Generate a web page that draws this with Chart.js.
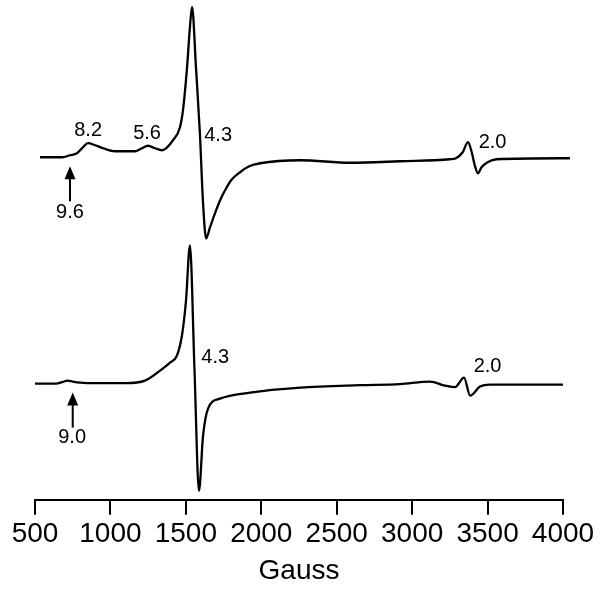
<!DOCTYPE html>
<html>
<head>
<meta charset="utf-8">
<script src="https://cdn.jsdelivr.net/npm/chart.js@4/dist/chart.umd.min.js"></script>
<style>
  html, body { margin: 0; padding: 0; background: #fff; }
  #wrap { width: 600px; height: 592px; }
</style>
</head>
<body>
<div id="wrap"><canvas id="epr"></canvas></div>
<script>
// Upper spectrum: field (G) and relative intensity
var gaussTop = [533, 680, 732, 778, 818, 851, 898, 951, 1030, 1163, 1209, 1249, 1295, 1342, 1415, 1461, 1481,
  1508, 1527, 1541, 1567, 1593, 1613, 1634, 1660, 1693, 1730, 1760, 1800, 1859, 1920, 1992, 2257, 2590, 2920,
  3250, 3290, 3335, 3370, 3395, 3415, 3436, 3460, 3500, 3560, 4046];
var signalTop = [0, 0, 2, 4, 10, 14, 12, 9, 6, 6, 9, 11.5, 9, 7, 17, 30, 47,
  90, 130, 150, 90, 24, -43, -81, -70, -56, -42, -33, -23, -15, -9, -6, -3, -5.5, -4,
  -2, -1, 5, 15, 5, -8, -16, -10, -5, -2, -1];

// Lower spectrum
var gaussBottom = [500, 640, 680, 715, 750, 800, 900, 1100, 1229, 1329, 1395, 1441, 1474, 1501, 1527, 1557,
  1587, 1614, 1647, 1726, 1925, 2257, 2654, 2919, 3118, 3218, 3284, 3344, 3384, 3450, 3516, 4000];
var signalBottom = [0, 0, 1.5, 3, 2, 1, 0.5, 0.5, 3, 13, 21, 28, 48, 83, 138, 15,
  -107, -52, -25, -15, -9, -4, -1.6, -0.6, 2, -2, -3.6, 6, -12, -3, -1, -1];

// vertical offsets of the two traces
var offsetTop = 342;
var offsetBottom = 116;

// g-value labels
var labelsTop = ['8.2', '5.6', '4.3', '2.0', '9.6'];
var labelGaussTop = [852, 1243, 1714, 3533, 732];
var labelHeightTop = [27, 24, 22, 15, -55];
var labelsBottom = ['4.3', '2.0', '9.0'];
var labelGaussBottom = [1695, 3500, 746];
var labelHeightBottom = [26, 17, -54];

var arrowGauss = [732, 750];
var arrowOffset = [offsetTop, offsetBottom];

var xTicks = [500, 1000, 1500, 2000, 2500, 3000, 3500, 4000];

function toPoints(xs, ys, off) {
  var pts = [];
  for (var i = 0; i < xs.length; i++) {
    pts.push({ x: xs[i], y: ys[i] + off });
  }
  return pts;
}

var annotate = {
  id: 'annotate',
  afterDatasetsDraw: function(chart) {
    var ctx = chart.ctx;
    var xs = chart.scales.x, ys = chart.scales.y;
    ctx.save();
    ctx.fillStyle = '#000';
    ctx.strokeStyle = '#000';
    ctx.font = '20px "Liberation Sans", Arial, sans-serif';
    ctx.textAlign = 'center';
    ctx.textBaseline = 'middle';
    var i;
    for (i = 0; i < labelsTop.length; i++) {
      ctx.fillText(labelsTop[i], xs.getPixelForValue(labelGaussTop[i]), ys.getPixelForValue(offsetTop + labelHeightTop[i]));
    }
    for (i = 0; i < labelsBottom.length; i++) {
      ctx.fillText(labelsBottom[i], xs.getPixelForValue(labelGaussBottom[i]), ys.getPixelForValue(offsetBottom + labelHeightBottom[i]));
    }
    // arrows pointing up at the low-field features
    for (i = 0; i < arrowGauss.length; i++) {
      var ax = xs.getPixelForValue(arrowGauss[i]);
      var tip = ys.getPixelForValue(arrowOffset[i]) + 9;
      ctx.beginPath();
      ctx.moveTo(ax, tip);
      ctx.lineTo(ax - 5.5, tip + 13);
      ctx.lineTo(ax + 5.5, tip + 13);
      ctx.closePath();
      ctx.fill();
      ctx.lineWidth = 2;
      ctx.beginPath();
      ctx.moveTo(ax, tip + 10);
      ctx.lineTo(ax, tip + 35);
      ctx.stroke();
    }
    ctx.restore();
  }
};

var ctx = document.getElementById('epr').getContext('2d');
var chart = new Chart(ctx, {
  type: 'line',
  data: {
    datasets: [
      {
        label: 'top',
        data: toPoints(gaussTop, signalTop, offsetTop),
        borderColor: '#000',
        borderWidth: 2.3,
        pointRadius: 0,
        fill: false,
        cubicInterpolationMode: 'monotone',
        clip: false
      },
      {
        label: 'bottom',
        data: toPoints(gaussBottom, signalBottom, offsetBottom),
        borderColor: '#000',
        borderWidth: 2.3,
        pointRadius: 0,
        fill: false,
        cubicInterpolationMode: 'monotone',
        clip: false
      }
    ]
  },
  options: {
    responsive: true,
    maintainAspectRatio: false,
    animation: false,
    layout: { padding: { left: 35, right: 37, top: 5, bottom: 4 } },
    plugins: { legend: { display: false }, tooltip: { enabled: false } },
    scales: {
      x: {
        type: 'linear',
        min: 500,
        max: 4000,
        afterBuildTicks: function(scale) {
          scale.ticks = xTicks.map(function(v) { return { value: v }; });
        },
        border: { display: true, color: '#000', width: 2 },
        grid: { drawOnChartArea: false, color: '#000', lineWidth: 2, tickLength: 15 },
        ticks: {
          color: '#000',
          padding: 3,
          maxRotation: 0,
          autoSkip: false,
          callback: function(v) { return String(v); },
          font: { family: '"Liberation Sans", Arial, sans-serif', size: 28 }
        },
        title: {
          display: true,
          text: 'Gauss',
          color: '#000',
          padding: { top: 0, bottom: 0 },
          font: { family: '"Liberation Sans", Arial, sans-serif', size: 28 }
        }
      },
      y: {
        display: false,
        min: 0,
        max: 494
      }
    }
  },
  plugins: [annotate]
});
</script>
</body>
</html>
